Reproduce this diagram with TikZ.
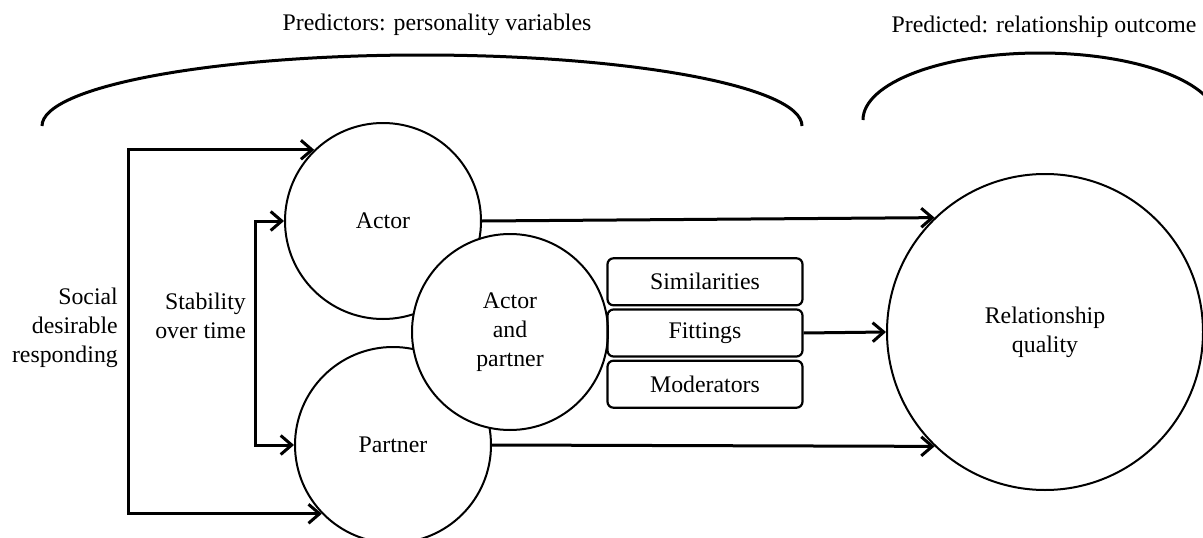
\documentclass[tikz,border=0pt]{standalone}
\usepackage{fontspec}
\setmainfont{Liberation Serif}
\usetikzlibrary{arrows.meta,positioning}
\tikzset{
    txt/.style = {font = \fontsize{23.8}{29}\selectfont, inner sep = 0pt},
    circ/.style = {txt, circle, draw, line width = 2pt, fill = white,
                   minimum size = 196pt, align = center},
    box/.style = {txt, draw, line width = 2.2pt, rounded corners = 6pt,
                  minimum width = 195pt, minimum height = 47pt},
    arr/.style = {line width = 3pt, -{Straight Barb[length = 11pt, width = 19pt]}},
    brace/.style = {line width = 3pt}
}
\begin{document}
\begin{tikzpicture}[x = 1pt, y = -1pt]
    \useasboundingbox (0, 0) rectangle (1203, 538);
    % group arcs
    \draw[brace] (42, 126) arc[start angle = 180, end angle = 360,
                                x radius = 380, y radius = 71];
    \draw[brace] (863, 120) arc[start angle = 180, end angle = 360,
                                 x radius = 177, y radius = 67];
    \node[txt] (predictors) at (437, 25) {Predictors: personality variables};
    \node[txt] (predicted) at (1044, 27) {Predicted: relationship outcome};

    \node[circ] (actor) at (383, 221) {Actor};
    \node[circ] (partner) at (393, 445) {Partner};
    \node[circ] (both) at (510, 332) {Actor\\and\\partner};
    \node[circ, minimum size = 316pt] (quality) at (1045, 332) {Relationship\\quality};
    \node[box] (fit) at (705, 333) {Fittings};
    \node[box, above = 2pt of fit] (sim) {Similarities};
    \node[box, below = 2pt of fit] (mod) {Moderators};

    \node[txt, anchor = east, align = right] (sdr) at (118, 328)
        {Social\\desirable\\responding};
    \node[txt, anchor = east, align = right] (stab) at (246, 316)
        {Stability\\over time};
    \coordinate (sdrline) at (128, 330);
    \coordinate (stabline) at (255, 330);

    \draw[arr] (sdrline) |- (actor.134);
    \draw[arr] (sdrline) |- (partner.224);
    \draw[arr] (stabline) |- (actor.west);
    \draw[arr] (stabline) |- (partner.west);

    \draw[arr] (actor.east) -- (quality.134);
    \draw[arr] (fit.east) -- (quality.west);
    \draw[arr] (partner.east) -- (quality.226);
\end{tikzpicture}
\end{document}
